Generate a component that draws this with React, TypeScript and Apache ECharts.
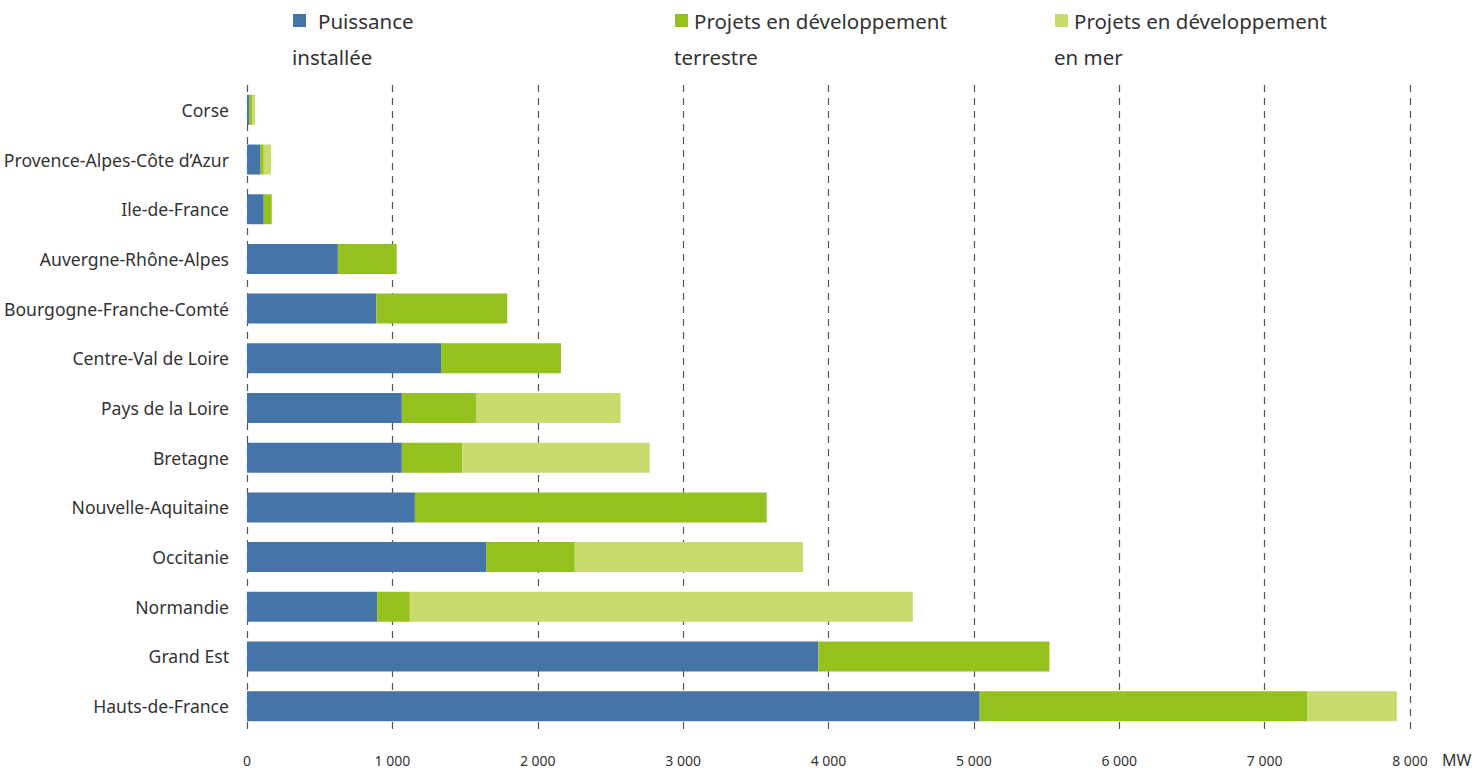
import React, { useEffect, useRef } from "react";
import * as echarts from "echarts";

const regions = [
  "Corse",
  "Provence-Alpes-Côte d’Azur",
  "Ile-de-France",
  "Auvergne-Rhône-Alpes",
  "Bourgogne-Franche-Comté",
  "Centre-Val de Loire",
  "Pays de la Loire",
  "Bretagne",
  "Nouvelle-Aquitaine",
  "Occitanie",
  "Normandie",
  "Grand Est",
  "Hauts-de-France",
];

const installed = [15, 90, 115, 625, 890, 1335, 1065, 1065, 1155, 1645, 895, 3930, 5040];
const onshore = [20, 25, 55, 405, 900, 825, 510, 415, 2420, 610, 225, 1590, 2255];
const offshore = [20, 50, 0, 0, 0, 0, 995, 1290, 0, 1570, 3460, 0, 615];

const seriesNames = [
  "Puissance\ninstallée",
  "Projets en développement\nterrestre",
  "Projets en développement\nen mer",
];
const seriesColors = ["#4575a8", "#95c11f", "#c9da6f"];
const xTicks = { min: 0, max: 8000, interval: 1000 };
const unit = "MW";

const FONT = "'Noto Sans', 'Open Sans', sans-serif";

export default function App() {
  const ref = useRef<HTMLDivElement>(null);
  useEffect(() => {
    document.body.style.margin = "0";
    const chart = echarts.init(ref.current!, undefined, { renderer: "svg" });
    const data = [installed, onshore, offshore];
    const legendX = [
      { rect: 293, text: 318 },
      { rect: 675, text: 694 },
      { rect: 1055, text: 1074 },
    ];
    const legendGraphics: any[] = [];
    seriesNames.forEach((n, i) => {
      const [l1, l2] = n.split("\n");
      legendGraphics.push({
        type: "rect",
        shape: { x: legendX[i].rect, y: 14, width: 13, height: 13 },
        style: { fill: seriesColors[i] },
      });
      legendGraphics.push({
        type: "text",
        x: legendX[i].text,
        y: 21,
        style: { text: l1, fill: "#333", font: `20.5px ${FONT}`, verticalAlign: "middle" },
      });
      legendGraphics.push({
        type: "text",
        x: legendX[i].rect - 1,
        y: 57,
        style: { text: l2, fill: "#333", font: `20.5px ${FONT}`, verticalAlign: "middle" },
      });
    });
    legendGraphics.push({
      type: "text",
      x: 1442,
      y: 760,
      style: { text: unit, fill: "#333", font: `16px ${FONT}`, verticalAlign: "middle" },
    });
    chart.setOption({
      animation: false,
      grid: { left: 247, right: 68, top: 85, bottom: 39, containLabel: false },
      xAxis: {
        type: "value",
        min: xTicks.min,
        max: xTicks.max,
        interval: xTicks.interval,
        axisLine: { show: false },
        axisTick: { show: false },
        axisLabel: {
          margin: 22,
          color: "#333",
          fontFamily: FONT,
          fontSize: 14,
          formatter: (v: number) => (v >= 1000 ? `${Math.floor(v / 1000)} ${String(v % 1000).padStart(3, "0")}` : String(v)),
        },
        splitLine: { show: true, lineStyle: { color: "#555", type: [7, 6], width: 1.2 } },
      },
      yAxis: {
        type: "category",
        data: regions,
        inverse: true,
        axisLine: { show: false },
        axisTick: { show: false },
        axisLabel: { margin: 18, color: "#333", fontFamily: FONT, fontSize: 17.6 },
      },
      series: seriesNames.map((n, i) => ({
        name: n,
        type: "bar",
        stack: "total",
        data: data[i],
        barWidth: 30,
        itemStyle: { color: seriesColors[i] },
      })),
      graphic: legendGraphics,
    });
    return () => chart.dispose();
  }, []);
  return <div ref={ref} style={{ width: 1478, height: 770 }} />;
}
